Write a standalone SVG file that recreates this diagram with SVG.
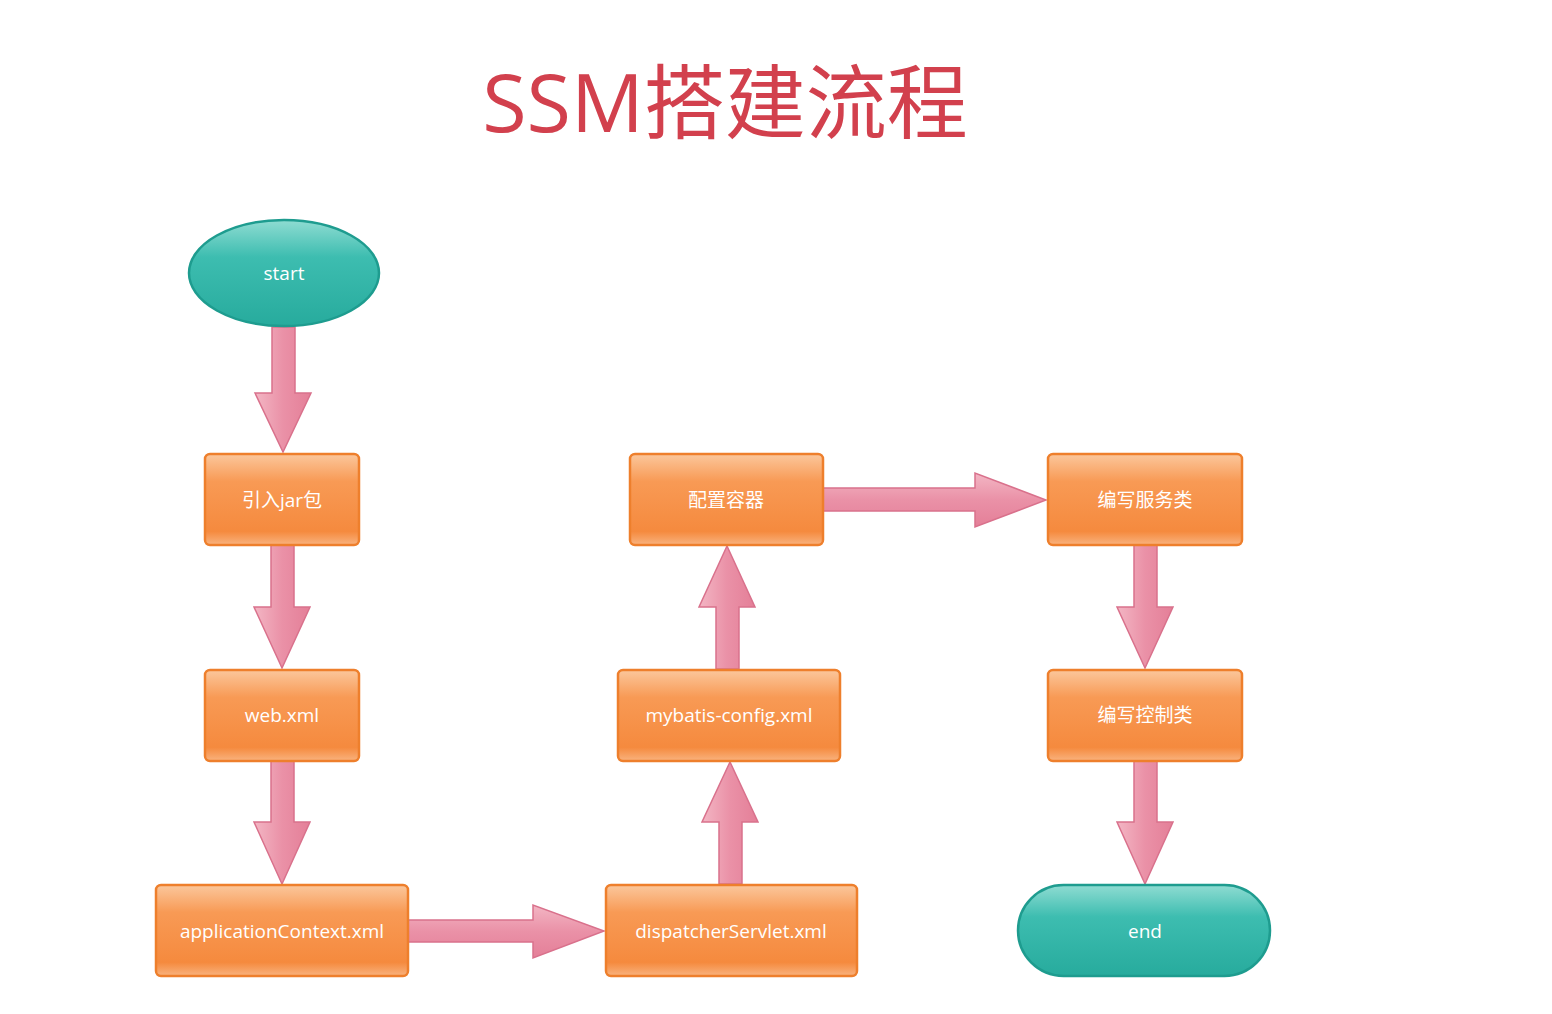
<svg xmlns="http://www.w3.org/2000/svg" width="1552" height="1014" viewBox="0 0 1552 1014">
<defs>
<linearGradient id="gBox" x1="0" y1="0" x2="0" y2="1">
<stop offset="0" stop-color="#fbc79c"/>
<stop offset="0.3" stop-color="#f89a55"/>
<stop offset="0.85" stop-color="#f58a3e"/>
<stop offset="1" stop-color="#f9b37f"/>
</linearGradient>
<linearGradient id="gTeal" x1="0" y1="0" x2="0" y2="1">
<stop offset="0" stop-color="#8fdcd2"/>
<stop offset="0.35" stop-color="#3dbdb0"/>
<stop offset="1" stop-color="#27ab9d"/>
</linearGradient>
<linearGradient id="gArrV" x1="0" y1="0" x2="1" y2="0">
<stop offset="0" stop-color="#f3b6c4"/>
<stop offset="0.5" stop-color="#ea91a7"/>
<stop offset="1" stop-color="#e47f98"/>
</linearGradient>
<linearGradient id="gArrH" x1="0" y1="0" x2="0" y2="1">
<stop offset="0" stop-color="#f3b6c4"/>
<stop offset="0.5" stop-color="#ea91a7"/>
<stop offset="1" stop-color="#e47f98"/>
</linearGradient>
<style>
.box{fill:url(#gBox);stroke:#ee7f2c;stroke-width:2.5}
.teal{fill:url(#gTeal);stroke:#1e9c8f;stroke-width:2.5}
.lbl{font-family:"Open Sans","Noto Sans","Noto Sans CJK SC",sans-serif;font-size:19px;fill:#ffffff;text-anchor:middle;dominant-baseline:central}
.av{fill:url(#gArrV);stroke:#d9718c;stroke-width:1.5}
.ah{fill:url(#gArrH);stroke:#d9718c;stroke-width:1.5}
.title{font-family:"Open Sans","Noto Sans","Noto Sans CJK SC",sans-serif;font-size:81px;fill:#d2404d;text-anchor:middle}
</style>
</defs>
<rect width="1552" height="1014" fill="#ffffff"/>
<text class="title" x="725" y="132">SSM搭建流程</text>

<g id="connectors">
<path class="av" d="M272,327 L295,327 L295,393 L311,393 L283,452 L255,393 L272,393 Z"/>
<path class="av" d="M271,545 L294,545 L294,607 L310,607 L282,668 L254,607 L271,607 Z"/>
<path class="av" d="M271,761 L294,761 L294,822 L310,822 L282,884 L254,822 L271,822 Z"/>
<path class="ah" d="M408,920 L533,920 L533,905 L604,931 L533,958 L533,942 L408,942 Z"/>
<path class="av" d="M719,884 L742,884 L742,822 L758,822 L730,762 L702,822 L719,822 Z"/>
<path class="av" d="M716,669 L739,669 L739,607 L755,607 L727,546 L699,607 L716,607 Z"/>
<path class="ah" d="M823,488 L975,488 L975,473 L1046,500 L975,527 L975,511 L823,511 Z"/>
<path class="av" d="M1134,545 L1157,545 L1157,607 L1173,607 L1145,668 L1117,607 L1134,607 Z"/>
<path class="av" d="M1134,761 L1157,761 L1157,822 L1173,822 L1145,884 L1117,822 L1134,822 Z"/>
</g>

<g id="start">
<ellipse class="teal" cx="284" cy="273" rx="95" ry="53"/>
<text class="lbl" x="284" y="273">start</text>
</g>
<g id="jar">
<rect class="box" x="205" y="454" width="154" height="91" rx="5"/>
<text class="lbl" x="282" y="500">引入jar包</text>
</g>
<g id="webxml">
<rect class="box" x="205" y="670" width="154" height="91" rx="5"/>
<text class="lbl" x="282" y="715">web.xml</text>
</g>
<g id="appctx">
<rect class="box" x="156" y="885" width="252" height="91" rx="5"/>
<text class="lbl" x="282" y="931">applicationContext.xml</text>
</g>
<g id="dispatcher">
<rect class="box" x="606" y="885" width="251" height="91" rx="5"/>
<text class="lbl" x="731" y="931">dispatcherServlet.xml</text>
</g>
<g id="mybatis">
<rect class="box" x="618" y="670" width="222" height="91" rx="5"/>
<text class="lbl" x="729" y="715">mybatis-config.xml</text>
</g>
<g id="container">
<rect class="box" x="630" y="454" width="193" height="91" rx="5"/>
<text class="lbl" x="726" y="500">配置容器</text>
</g>
<g id="service">
<rect class="box" x="1048" y="454" width="194" height="91" rx="5"/>
<text class="lbl" x="1145" y="500">编写服务类</text>
</g>
<g id="controller">
<rect class="box" x="1048" y="670" width="194" height="91" rx="5"/>
<text class="lbl" x="1145" y="715">编写控制类</text>
</g>
<g id="end">
<rect class="teal" x="1018" y="885" width="252" height="91" rx="45.5"/>
<text class="lbl" x="1145" y="931">end</text>
</g>
</svg>
